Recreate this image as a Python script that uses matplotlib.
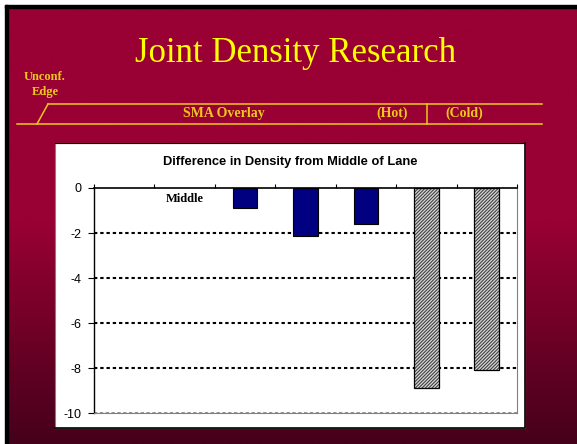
import numpy as np
import matplotlib
matplotlib.use("Agg")
import matplotlib.pyplot as plt
from matplotlib.patches import Rectangle
from matplotlib.lines import Line2D
from matplotlib.colors import LinearSegmentedColormap

# ---- data ----
categories = ["Edge", "Middle", "P1", "P2", "P3", "P4", "P5"]
hot_values = [np.nan, np.nan, -0.9, -2.15, -1.6, np.nan, np.nan]
cold_values = [np.nan, np.nan, np.nan, np.nan, np.nan, -8.9, -8.1]
yticks = [0, -2, -4, -6, -8, -10]
title = "Difference in Density from Middle of Lane"
slide_title = "Joint Density Research"

W, H = 577, 444
fig = plt.figure(figsize=(W / 100, H / 100), dpi=100)

def fx(px):
    return px / W

def fy(py):
    return 1 - py / H

# background gradient
bg = fig.add_axes([0, 0, 1, 1])
bg.set_axis_off()
bg.set_zorder(0)
cmap = LinearSegmentedColormap.from_list("bg", ["#990033", "#990033", "#45001a"])
grad = np.linspace(0, 1, 256).reshape(-1, 1)
bg.imshow(grad, aspect="auto", cmap=cmap, extent=[0, 1, 0, 1], origin="upper")
bg.set_xlim(0, 1)
bg.set_ylim(0, 1)
T = fig.transFigure
# white corner + black top/left border
bg.add_patch(Rectangle((0, fy(5)), 1, 1 - fy(5), color="white", transform=T))
bg.add_patch(Rectangle((0, 0), fx(5), 1, color="white", transform=T))
bg.add_patch(Rectangle((fx(5), fy(8)), 1, fy(5) - fy(8), color="black", transform=T))
bg.add_patch(Rectangle((fx(5), 0), fx(3), fy(5), color="black", transform=T))

gold = "#ecc81a"
bg.text(fx(296), fy(53), slide_title, color="#ffff00", fontsize=25,
        family="Liberation Serif", ha="center", va="center", transform=T)
for (px, py, s, size) in [(45, 77, "Unconf.", 9), (45, 92, "Edge", 9),
                          (224, 113, "SMA Overlay", 10), (392, 113, "(Hot)", 10),
                          (464, 113, "(Cold)", 10)]:
    bg.text(fx(px), fy(py), s, color=gold, fontsize=size, fontweight="bold",
            family="Liberation Serif", ha="center", va="center", transform=T)
for xs, ys in [([48, 542], [104, 104]), ([17, 542], [124, 124]),
               ([37, 48], [124, 104]), ([427, 427], [104, 124])]:
    bg.add_line(Line2D([fx(v) for v in xs], [fy(v) for v in ys],
                       color=gold, lw=1.1, transform=T))

# chart panel
bg.add_patch(Rectangle((fx(55), fy(428)), fx(525) - fx(55), fy(143) - fy(428),
                       facecolor="white", edgecolor="#808080", lw=0.8, transform=T))
bg.add_line(Line2D([fx(55), fx(525), fx(525)], [fy(428), fy(428), fy(143)],
                   color="black", lw=1.2, transform=T))
bg.add_line(Line2D([fx(55), fx(525)], [fy(143), fy(143)],
                   color="black", lw=0.8, transform=T))

bg.text(fx(290), fy(162), title, fontsize=9.3, fontweight="bold",
        family="Liberation Sans", ha="center", va="center", color="black", transform=T)

ax = fig.add_axes([fx(94), fy(413), fx(517) - fx(94), fy(188) - fy(413)])
ax.set_zorder(2)
x = np.arange(len(categories))
ax.set_xlim(-0.5, len(categories) - 0.5)
ax.set_ylim(-10, 0)
ax.set_facecolor("white")

for v in yticks[1:-1]:
    ax.axhline(v, color="black", lw=1.5, linestyle=(0, (1.6, 1.4)), zorder=1)
ax.axhline(-10, color="#808080", lw=1.2, linestyle=(0, (2, 1.5)), zorder=1)

bw = 0.41
ax.bar(x, hot_values, width=bw, color="#000080", edgecolor="black", lw=0.8, zorder=3)
plt.rcParams["hatch.linewidth"] = 0.8
ax.bar(x, cold_values, width=bw, color="#d8d8d8", edgecolor="#404040", lw=0,
       hatch="//////////", zorder=3)
ax.bar(x, cold_values, width=bw, fill=False, edgecolor="black", lw=0.9, zorder=4)

ax.text(x[1], -0.5, categories[1], fontsize=9, fontweight="bold",
        family="Liberation Serif", ha="center", va="center")

for s in ["right", "bottom"]:
    ax.spines[s].set_color("#808080")
    ax.spines[s].set_linewidth(0.8)
ax.spines["left"].set_color("black")
ax.spines["top"].set_color("black")
ax.spines["left"].set_linewidth(1.0)
ax.spines["top"].set_linewidth(1.2)

ax.set_yticks(yticks)
ax.set_yticklabels([str(t) for t in yticks], family="Liberation Sans", fontsize=9)
ax.tick_params(axis="y", direction="out", length=4, width=0.8, pad=5)
ax.xaxis.set_ticks_position("top")
ax.set_xticks(np.arange(-0.5, len(categories), 1.0))
ax.tick_params(axis="x", direction="out", length=3, width=0.8, labeltop=False,
               labelbottom=False)

fig.savefig("out.png", dpi=100)
